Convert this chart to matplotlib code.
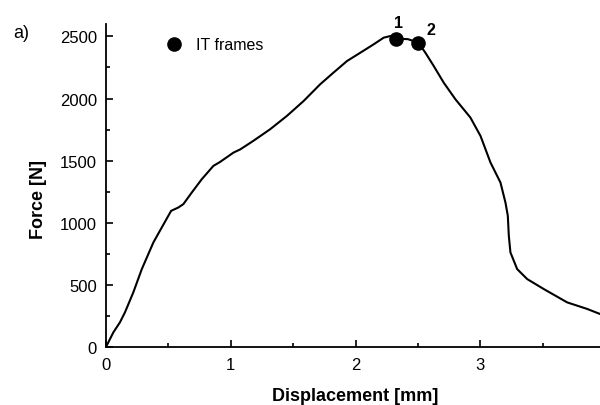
import matplotlib
matplotlib.use("Agg")
import matplotlib.pyplot as plt
from matplotlib.lines import Line2D
from matplotlib.ticker import MultipleLocator

plt.rcParams['font.family'] = ['Liberation Sans', 'DejaVu Sans']

# force-displacement curve
disp = [0.000, 0.059, 0.112, 0.152, 0.219, 0.287, 0.380, 0.447, 0.522, 0.580,
        0.620, 0.688, 0.768, 0.861, 0.915, 1.022, 1.075, 1.182, 1.316, 1.450,
        1.584, 1.717, 1.824, 1.932, 2.039, 2.145, 2.226, 2.279, 2.327, 2.420,
        2.504, 2.560, 2.627, 2.707, 2.801, 2.921, 3.002, 3.082, 3.162, 3.202,
        3.221, 3.229, 3.242, 3.296, 3.376, 3.510, 3.697, 3.858, 3.962, 4.000]
force = [0, 118, 199, 279, 440, 627, 842, 962, 1096, 1123,
         1150, 1244, 1351, 1458, 1490, 1565, 1590, 1660, 1753, 1860,
         1980, 2115, 2209, 2302, 2369, 2436, 2490, 2503, 2482, 2478,
         2450, 2369, 2262, 2128, 1994, 1847, 1699, 1485, 1324, 1163,
         1056, 895, 761, 627, 547, 466, 359, 306, 265, 255]

# IT frames
it_disp = [2.327, 2.505]
it_force = [2482, 2450]
it_labels = ['1', '2']

fig = plt.figure(figsize=(6.0, 4.06), dpi=100)
ax = fig.add_axes([106 / 600, 58 / 406, 499 / 600, 323 / 406])

ax.plot(disp, force, color='black', lw=1.5)
ax.plot(it_disp, it_force, 'o', color='black', ms=9.5, zorder=3)
offsets = [(0.02, 70), (0.10, 45)]
for xd, yd, lab, (dx, dy) in zip(it_disp, it_force, it_labels, offsets):
    ax.text(xd + dx, yd + dy, lab, fontsize=11.5, fontweight='bold',
            ha='center', va='bottom')

ax.set_xlim(0, 4)
ax.set_ylim(0, 2600)
ax.xaxis.set_major_locator(MultipleLocator(1))
ax.xaxis.set_minor_locator(MultipleLocator(0.5))
ax.yaxis.set_major_locator(MultipleLocator(500))
ax.yaxis.set_minor_locator(MultipleLocator(250))
ax.tick_params(which='both', direction='in', width=1.2, labelsize=12,
               top=False, right=False)
ax.tick_params(which='major', length=5)
ax.tick_params(which='minor', length=3)
ax.tick_params(axis='y', pad=6.5)
ax.tick_params(axis='x', pad=7)
for s in ['top', 'right']:
    ax.spines[s].set_visible(False)
for s in ['left', 'bottom']:
    ax.spines[s].set_linewidth(1.3)

ax.set_xlabel('Displacement [mm]', fontsize=13, fontweight='bold')
ax.set_ylabel('Force [N]', fontsize=13, fontweight='bold')
ax.xaxis.set_label_coords(0.5, -0.125)
ax.yaxis.set_label_coords(-0.118, 0.461)

handle = Line2D([], [], marker='o', color='black', ls='none', ms=9.5)
ax.legend([handle], ['IT frames'], loc='center left', frameon=False,
          bbox_to_anchor=(0.107, 0.935), fontsize=11.5, handletextpad=0.9,
          handlelength=1.0, borderaxespad=0)

fig.text(13 / 600, 1 - 34 / 406, 'a)', fontsize=13, va='center', ha='left')

fig.savefig('out.png', dpi=100, facecolor='white')
